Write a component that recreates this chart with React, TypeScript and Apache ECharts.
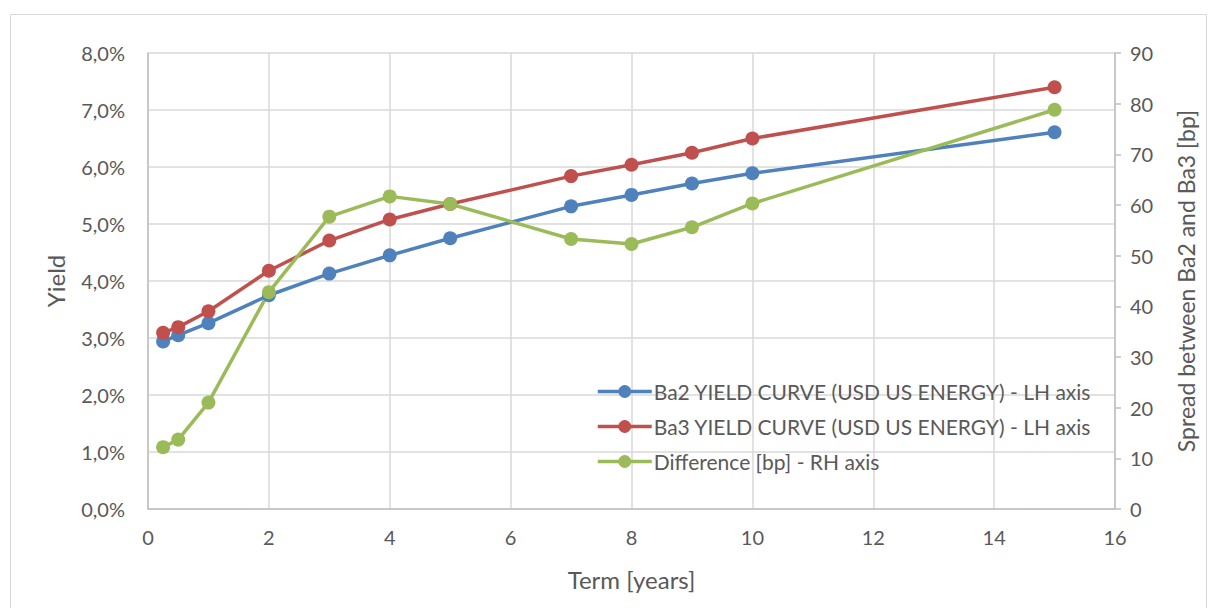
import React, { useEffect, useRef } from "react";
import * as echarts from "echarts";

const terms = [0.25, 0.5, 1, 2, 3, 4, 5, 7, 8, 9, 10, 15];
const ba2Yield = [2.94, 3.05, 3.26, 3.75, 4.13, 4.45, 4.75, 5.31, 5.51, 5.71, 5.89, 6.61];
const ba3Yield = [3.09, 3.19, 3.47, 4.18, 4.71, 5.08, 5.35, 5.84, 6.04, 6.25, 6.5, 7.4];
const diffBp = [12.2, 13.7, 21.0, 42.8, 57.7, 61.7, 60.2, 53.3, 52.3, 55.6, 60.3, 78.8];

const seriesNames = [
  "Ba2 YIELD CURVE (USD US ENERGY) - LH axis",
  "Ba3 YIELD CURVE (USD US ENERGY) - LH axis",
  "Difference [bp] - RH axis",
];
const colors = ["#4f81bd", "#c0504d", "#9bbb59"];

const FONT = "Lato, 'Open Sans', sans-serif";
const TXT = "#595959";

export default function App() {
  const ref = useRef<HTMLDivElement>(null);
  useEffect(() => {
    document.body.style.margin = "0";
    const chart = echarts.init(ref.current!, null, { renderer: "svg" });
    const pair = (ys: number[]) => terms.map((t, i) => [t, ys[i]]);
    const mk = (name: string, data: number[][], color: string, yAxisIndex: number) => ({
      name,
      type: "line",
      yAxisIndex,
      data,
      symbol: "circle",
      symbolSize: 14,
      lineStyle: { width: 3.5, color },
      itemStyle: { color },
      z: 3,
    });
    chart.setOption({
      animation: false,
      backgroundColor: "#ffffff",
      textStyle: { fontFamily: FONT, color: TXT },
      graphic: [
        {
          type: "rect",
          shape: { x: 10.5, y: 14.5, width: 1196, height: 600 },
          style: { fill: "none", stroke: "#d9d9d9", lineWidth: 1 },
          silent: true,
          z: -1,
        },
      ],
      grid: { left: 148, top: 53, right: 93, bottom: 99 },
      legend: {
        orient: "vertical",
        left: 594,
        top: 379,
        itemWidth: 54,
        itemHeight: 16,
        itemGap: 14,
        data: seriesNames,
        lineStyle: { width: 3.5 },
        textStyle: { fontFamily: FONT, fontSize: 21, color: TXT, padding: [0, 0, 0, -3] },
        padding: [2, 4, 2, 2],
      },
      xAxis: {
        type: "value",
        min: 0,
        max: 16,
        interval: 2,
        name: "Term [years]",
        nameLocation: "middle",
        nameGap: 58,
        nameTextStyle: { fontFamily: FONT, fontSize: 24, color: TXT },
        axisLine: { show: true, lineStyle: { color: "#bfbfbf", width: 1.5 } },
        axisTick: { show: false },
        axisLabel: { fontFamily: FONT, fontSize: 20, color: TXT, margin: 18 },
        splitLine: { show: true, lineStyle: { color: "#d9d9d9", width: 1.5 } },
      },
      yAxis: [
        {
          type: "value",
          min: 0,
          max: 8,
          interval: 1,
          name: "Yield",
          nameLocation: "middle",
          nameGap: 81,
          nameRotate: 90,
          nameTextStyle: { fontFamily: FONT, fontSize: 24, color: TXT },
          axisLine: { show: true, lineStyle: { color: "#bfbfbf", width: 1.5 } },
          axisTick: { show: false },
          axisLabel: {
            fontFamily: FONT,
            fontSize: 20,
            color: TXT,
            margin: 23,
            formatter: (v: number) => v.toFixed(1).replace(".", ",") + "%",
          },
          splitLine: { show: true, lineStyle: { color: "#d9d9d9", width: 1.5 } },
        },
        {
          type: "value",
          min: 0,
          max: 90,
          interval: 10,
          name: "Spread between Ba2 and Ba3 [bp]",
          nameLocation: "middle",
          nameGap: 59,
          nameRotate: 90,
          nameTextStyle: { fontFamily: FONT, fontSize: 23, color: TXT },
          axisLine: { show: true, lineStyle: { color: "#bfbfbf", width: 1.5 } },
          axisTick: { show: true, length: 6, lineStyle: { color: "#bfbfbf", width: 1.5 } },
          axisLabel: { fontFamily: FONT, fontSize: 20, color: TXT, margin: 15 },
          splitLine: { show: false },
        },
      ],
      series: [
        mk(seriesNames[0], pair(ba2Yield), colors[0], 0),
        mk(seriesNames[1], pair(ba3Yield), colors[1], 0),
        mk(seriesNames[2], pair(diffBp), colors[2], 1),
      ],
    });
    return () => chart.dispose();
  }, []);
  return <div ref={ref} style={{ width: 1208, height: 608 }} />;
}
